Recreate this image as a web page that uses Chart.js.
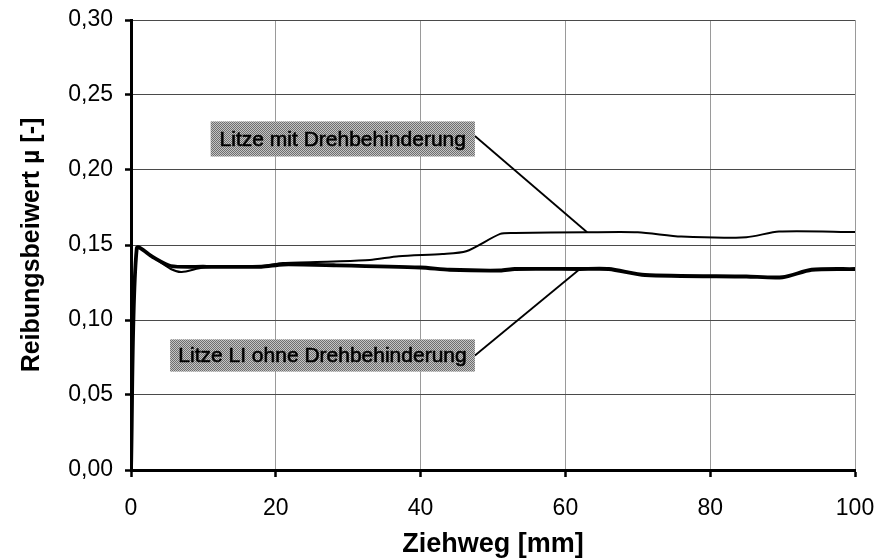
<!DOCTYPE html>
<html>
<head>
<meta charset="utf-8">
<script src="https://cdn.jsdelivr.net/npm/chart.js@4/dist/chart.umd.min.js"></script>
<style>
  html, body { margin: 0; padding: 0; background: #fff; }
  #wrap { width: 876px; height: 558px; position: relative; }
</style>
</head>
<body>
<div id="wrap"><canvas id="chart"></canvas></div>
<script>
// ==================== DATA ====================
const FONT = "'Liberation Sans', Arial, Helvetica, sans-serif";

// Ziehweg [mm] / Reibungsbeiwert for each strand
const mitX = [0, 0.8, 3, 5.5, 7, 10, 18, 21, 28, 33, 37, 43, 46.3, 51, 53, 63, 70, 76, 85, 89.5, 100];
const mitY = [0, 0.148, 0.142, 0.134, 0.132, 0.135, 0.136, 0.138, 0.139, 0.140, 0.1425, 0.144, 0.1458, 0.1574, 0.158, 0.1585, 0.1585, 0.1556, 0.1552, 0.159, 0.1587];

const ohneX = [0, 0.8, 3, 5.5, 10, 18, 21, 28, 40, 44, 51, 53, 62, 66, 71, 85, 90, 94, 100];
const ohneY = [0, 0.148, 0.142, 0.136, 0.1355, 0.1355, 0.137, 0.1365, 0.135, 0.1335, 0.133, 0.134, 0.134, 0.134, 0.130, 0.129, 0.1285, 0.1335, 0.134];

const seriesNames = ['Litze mit Drehbehinderung', 'Litze LI ohne Drehbehinderung'];
const yTickLabels = ['0,00', '0,05', '0,10', '0,15', '0,20', '0,25', '0,30'];
const xTickLabels = ['0', '20', '40', '60', '80', '100'];

// callout boxes (data units) and the point of the curve each one points at
const callouts = [
  { ds: 0, idx: 15, x0: 11.0, x1: 47.5, y0: 0.2090, y1: 0.2324 },
  { ds: 1, idx: 12, x0: 5.4, x1: 47.5, y0: 0.0656, y1: 0.0871 }
];

// ==================== CHART ====================
function halftone(ctx) {
  const p = document.createElement('canvas');
  p.width = 2; p.height = 2;
  const g = p.getContext('2d');
  g.fillStyle = '#c4c4c4'; g.fillRect(0, 0, 2, 2);
  g.fillStyle = '#6e6e6e'; g.fillRect(0, 0, 1, 1); g.fillRect(1, 1, 1, 1);
  return ctx.createPattern(p, 'repeat');
}

const calloutPlugin = {
  id: 'callouts',
  afterDatasetsDraw(chart) {
    const { ctx, scales: { x, y } } = chart;
    ctx.save();
    callouts.forEach((c, i) => {
      const left = x.getPixelForValue(c.x0), right = x.getPixelForValue(c.x1);
      const top = y.getPixelForValue(c.y1), bottom = y.getPixelForValue(c.y0);
      const pt = chart.getDatasetMeta(c.ds).data[c.idx];
      // leader line
      ctx.strokeStyle = '#000';
      ctx.lineWidth = 1.8;
      ctx.beginPath();
      ctx.moveTo(right, (top + bottom) / 2 - (i === 0 ? 3 : 0));
      ctx.lineTo(pt.x, pt.y);
      ctx.stroke();
      // box
      ctx.fillStyle = halftone(ctx);
      ctx.fillRect(left, top, right - left, bottom - top);
      // text
      ctx.fillStyle = '#000';
      ctx.font = '21px ' + FONT;
      ctx.textAlign = 'center';
      ctx.textBaseline = 'middle';
      ctx.fillText(seriesNames[c.ds], (left + right) / 2, (top + bottom) / 2 + 1);
      ctx.strokeStyle = '#000';
      ctx.lineWidth = 0.6;
      ctx.strokeText(seriesNames[c.ds], (left + right) / 2, (top + bottom) / 2 + 1);
    });
    ctx.restore();
  }
};

new Chart(document.getElementById('chart'), {
  type: 'line',
  data: {
    datasets: [
      {
        label: seriesNames[0],
        data: mitX.map((v, i) => ({ x: v, y: mitY[i] })),
        borderColor: '#000',
        borderWidth: 2,
        pointRadius: 0,
        tension: 0.25
      },
      {
        label: seriesNames[1],
        data: ohneX.map((v, i) => ({ x: v, y: ohneY[i] })),
        borderColor: '#000',
        borderWidth: 3.8,
        pointRadius: 0,
        tension: 0.25
      }
    ]
  },
  options: {
    responsive: true,
    maintainAspectRatio: false,
    animation: false,
    layout: { padding: { top: 20, right: 21, left: 0, bottom: 0 } },
    plugins: {
      legend: { display: false },
      tooltip: { enabled: false }
    },
    scales: {
      x: {
        type: 'linear',
        min: 0, max: 100,
        afterFit: s => { s.height = 88; s.paddingLeft = 0; s.paddingRight = 0; },
        afterBuildTicks: s => { s.ticks = xTickLabels.map(t => ({ value: Number(t) })); },
        grid: { color: '#9a9a9a', lineWidth: 1, tickColor: '#000', tickWidth: 2.5, tickLength: 7 },
        border: { color: '#000', width: 3 },
        ticks: {
          color: '#000', padding: 18,
          font: { family: FONT, size: 23 },
          maxRotation: 0,
          callback: (v, i) => xTickLabels[i]
        },
        title: {
          display: true, text: 'Ziehweg [mm]', color: '#000',
          font: { family: FONT, size: 27, weight: 'bold', lineHeight: 1 },
          padding: { top: 0, bottom: 0 }
        }
      },
      y: {
        min: 0, max: 0.3,
        afterFit: s => { s.width = 131; s.paddingTop = 0; s.paddingBottom = 0; },
        afterBuildTicks: s => { s.ticks = yTickLabels.map(t => ({ value: Number(t.replace(',', '.')) })); },
        grid: { color: '#4a4a4a', lineWidth: 1, tickColor: '#000', tickWidth: 2.5, tickLength: 6 },
        border: { color: '#000', width: 3 },
        ticks: {
          color: '#000', padding: 12,
          font: { family: FONT, size: 23 },
          callback: (v, i) => yTickLabels[i]
        },
        title: {
          display: true, text: 'Reibungsbeiwert µ [-]', color: '#000',
          font: { family: FONT, size: 25, weight: 'bold', lineHeight: 1.2 },
          padding: { top: 17, bottom: 0 }
        }
      }
    }
  },
  plugins: [calloutPlugin]
});
</script>
</body>
</html>
